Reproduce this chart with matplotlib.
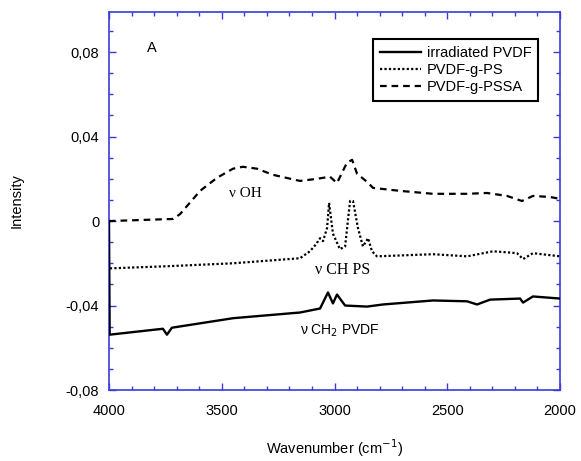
import matplotlib.pyplot as plt
from matplotlib.ticker import MultipleLocator, FuncFormatter

# spectra (wavenumber in cm-1, intensity)
wn_pvdf = [4000, 3997, 3761, 3743, 3721, 3450, 3153, 3064, 3029, 3007, 2989, 2953,
           2856, 2785, 2563, 2412, 2368, 2310, 2177, 2164, 2120, 2000]
i_pvdf = [0.0, -0.0538, -0.0510, -0.0538, -0.0505, -0.0460, -0.0433, -0.0414, -0.0338,
          -0.0390, -0.0348, -0.0400, -0.0405, -0.0395, -0.0376, -0.0380, -0.0395,
          -0.0372, -0.0367, -0.0386, -0.0357, -0.0367]

wn_ps = [3996, 3743, 3450, 3153, 3109, 3082, 3064, 3051, 3033, 3024, 3007, 2976, 2953,
         2931, 2918, 2896, 2874, 2851, 2834, 2812, 2563, 2412, 2297, 2191, 2164, 2120, 2000]
i_ps = [-0.0224, -0.0214, -0.0200, -0.0176, -0.0143, -0.0110, -0.0081, -0.0095, -0.0033,
        0.0086, -0.0060, -0.0133, -0.0120, 0.0095, 0.0095, -0.0033, -0.0120, -0.0081,
        -0.0143, -0.0167, -0.0157, -0.0167, -0.0143, -0.0152, -0.0180, -0.0152, -0.0167]

wn_pssa = [4000, 3716, 3685, 3596, 3521, 3450, 3406, 3344, 3273, 3153, 3078, 3020, 2989,
           2945, 2922, 2900, 2856, 2829, 2710, 2563, 2412, 2324, 2235, 2169, 2120, 2044, 2000]
i_pssa = [0.0, 0.0010, 0.0033, 0.0143, 0.0205, 0.0248, 0.0257, 0.0248, 0.0219, 0.0190,
          0.0200, 0.0210, 0.0180, 0.0276, 0.0290, 0.0224, 0.0186, 0.0157, 0.0143, 0.0129,
          0.0129, 0.0133, 0.0119, 0.0095, 0.0119, 0.0114, 0.0105]

plt.rcParams['font.family'] = ['Liberation Sans', 'DejaVu Sans']
blue = '#3b3bdc'
fs = 10.5

fig = plt.figure(figsize=(5.81, 4.61), dpi=100)
ax = fig.add_axes([0.1876, 0.154, 0.7763, 0.820])

ax.plot(wn_pvdf, i_pvdf, color='black', lw=1.7, label='irradiated PVDF', zorder=3)
ax.plot(wn_ps, i_ps, color='black', lw=1.6, ls=(0, (1, 1)), label='PVDF-g-PS')
ax.plot(wn_pssa, i_pssa, color='black', lw=1.6, ls=(0, (3, 2.2)), label='PVDF-g-PSSA')

ax.set_xlim(4000, 2000)
ax.set_ylim(-0.08, 0.099)
ax.xaxis.set_major_locator(MultipleLocator(500))
ax.xaxis.set_minor_locator(MultipleLocator(100))
ax.yaxis.set_major_locator(MultipleLocator(0.04))
ax.yaxis.set_minor_locator(MultipleLocator(0.01))


def fmt(v, pos):
    if abs(v) < 1e-9:
        return '0'
    return f'{v:.2f}'.replace('.', ',')


ax.yaxis.set_major_formatter(FuncFormatter(fmt))
ax.tick_params(which='both', direction='in', top=True, right=True, color=blue,
               labelsize=fs)
ax.tick_params(axis='x', which='major', pad=10)
ax.tick_params(axis='y', which='major', pad=7)
ax.tick_params(which='major', length=5, width=1)
ax.tick_params(which='minor', length=3, width=1)
for s in ax.spines.values():
    s.set_color(blue)
    s.set_linewidth(1.2)

ax.set_xlabel('Wavenumber (cm$^{-1}$)', fontsize=fs, labelpad=14)
ax.set_ylabel('Intensity', fontsize=fs, labelpad=30)

ax.text(3810, 0.082, 'A', fontsize=fs, ha='center', va='center')
ax.text(3397, 0.0129, 'ν OH', fontsize=11, ha='center', va='center',
        family=['Liberation Serif', 'DejaVu Serif'])
ax.text(2962, -0.023, 'ν CH PS', fontsize=11.5, ha='center', va='center',
        family=['Liberation Serif', 'DejaVu Serif'])
ax.text(2976, -0.052, 'ν CH$_2$ PVDF', fontsize=10, ha='center', va='center')

leg = ax.legend(loc='upper right', bbox_to_anchor=(0.951, 0.928), fontsize=fs,
                fancybox=False, framealpha=1, edgecolor='black', handlelength=2.8,
                handletextpad=0.4, borderpad=0.45, labelspacing=0.22, borderaxespad=0)
leg.get_frame().set_linewidth(1.5)

fig.savefig('out.png', dpi=100)
